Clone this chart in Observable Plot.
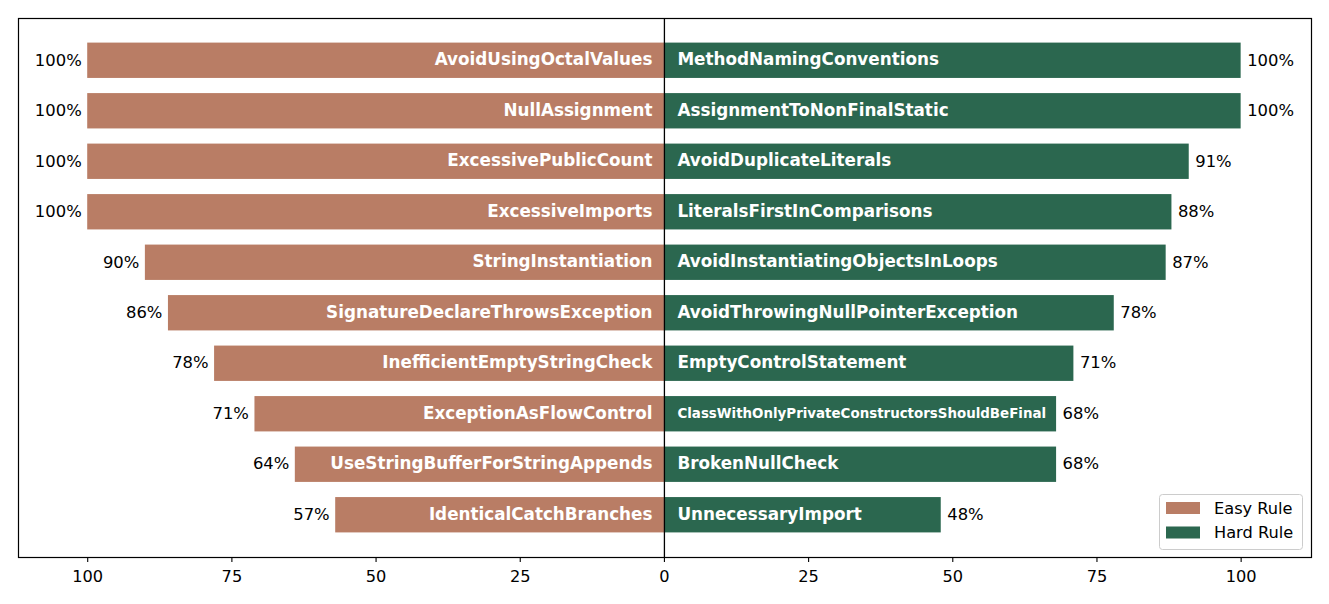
<!DOCTYPE html>
<html>
<head>
<meta charset="utf-8">
<script src="https://cdn.jsdelivr.net/npm/d3@7"></script>
<script src="https://cdn.jsdelivr.net/npm/@observablehq/plot@0.6"></script>
<style>
  html, body { margin: 0; padding: 0; background: white; }
  #chart { position: relative; width: 1329px; height: 604px; }
</style>
</head>
<body>
<div id="chart"></div>
<script>
const easyRules = ["AvoidUsingOctalValues", "NullAssignment", "ExcessivePublicCount", "ExcessiveImports", "StringInstantiation", "SignatureDeclareThrowsException", "InefficientEmptyStringCheck", "ExceptionAsFlowControl", "UseStringBufferForStringAppends", "IdenticalCatchBranches"];
const easyValues = [100, 100, 100, 100, 90, 86, 78, 71, 64, 57];
const hardRules = ["MethodNamingConventions", "AssignmentToNonFinalStatic", "AvoidDuplicateLiterals", "LiteralsFirstInComparisons", "AvoidInstantiatingObjectsInLoops", "AvoidThrowingNullPointerException", "EmptyControlStatement", "ClassWithOnlyPrivateConstructorsShouldBeFinal", "BrokenNullCheck", "UnnecessaryImport"];
const hardValues = [100, 100, 91, 88, 87, 78, 71, 68, 68, 48];
const xTicks = [-100, -75, -50, -25, 0, 25, 50, 75, 100];
const legendLabels = ["Easy Rule", "Hard Rule"];

const easyColor = "#b97d65";
const hardColor = "#2b674f";

const rows = easyRules.map((_, i) => i);
const easy = easyRules.map((name, i) => ({row: i, name, value: easyValues[i]}));
const hard = hardRules.map((name, i) => ({row: i, name, value: hardValues[i]}));

const font = "DejaVu Sans";

const plot = Plot.plot({
  width: 1329,
  height: 604,
  marginLeft: 18,
  marginRight: 18,
  marginTop: 18,
  marginBottom: 47,
  style: {fontFamily: font, fontSize: "16px", background: "white", color: "black"},
  x: {domain: [-112, 112.2], label: null},
  y: {type: "band", domain: rows, paddingInner: 0.3, paddingOuter: 0.487, round: false, axis: null},
  marks: [
    Plot.barX(easy, {x1: 0, x2: d => -d.value, y: "row", fill: easyColor}),
    Plot.barX(hard, {x1: 0, x2: "value", y: "row", fill: hardColor}),
    Plot.text(easy, {x: 0, y: "row", text: "name", dx: -12, dy: -1, textAnchor: "end", fill: "white", fontWeight: "bold", fontSize: 16.8}),
    Plot.text(hard, {x: 0, y: "row", text: "name", dx: 13, dy: -1, textAnchor: "start", fill: "white", fontWeight: "bold",
      fontSize: d => d.name.length > 40 ? 13.4 : 16.8}),
    Plot.text(easy, {x: d => -d.value, y: "row", text: d => d.value + "%", dx: -6, dy: -0.5, textAnchor: "end", fill: "black", fontSize: 16.4}),
    Plot.text(hard, {x: "value", y: "row", text: d => d.value + "%", dx: 6, dy: -0.5, textAnchor: "start", fill: "black", fontSize: 16.4}),
    Plot.ruleX([0], {stroke: "black", strokeWidth: 1.3}),
    Plot.axisX({ticks: xTicks, tickFormat: d => Math.abs(d), tickSize: 5, tickPadding: 8, fontSize: 16.2, anchor: "bottom", label: null, stroke: "black", strokeWidth: 1.1}),
    Plot.frame({stroke: "black", strokeWidth: 1.2})
  ]
});

document.getElementById("chart").appendChild(plot);

// legend drawn inside the plot area (bottom right)
const svg = d3.select(plot);
const lg = svg.append("g").attr("font-family", font).attr("font-size", 16.2).attr("text-anchor", "start");
lg.append("rect").attr("x", 1159.5).attr("y", 494.5).attr("width", 143).attr("height", 55)
  .attr("rx", 3).attr("fill", "white").attr("fill-opacity", 0.8).attr("stroke", "#cccccc");
[easyColor, hardColor].forEach((c, i) => {
  lg.append("rect").attr("x", 1166).attr("y", 502 + i * 24.5).attr("width", 34).attr("height", 12).attr("fill", c);
  lg.append("text").attr("x", 1214).attr("y", 508 + i * 24.5).attr("dy", "0.35em").attr("fill", "black").text(legendLabels[i]);
});
</script>
</body>
</html>
